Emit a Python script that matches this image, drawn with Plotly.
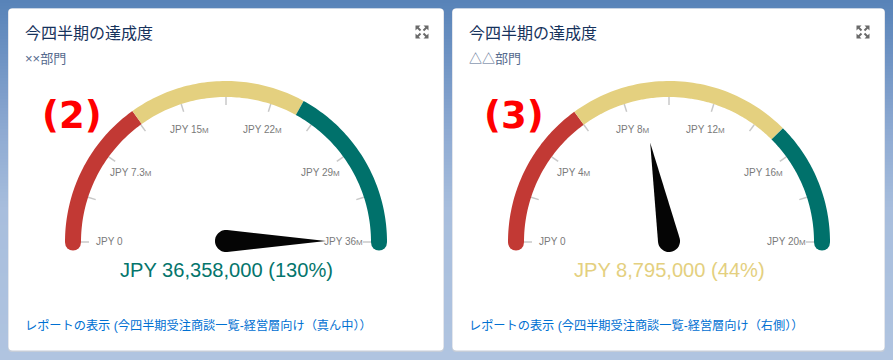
import math
import plotly.graph_objects as go

# ---- data ----
titles = ["今四半期の達成度", "今四半期の達成度"]
subtitles = ["××部門", "△△部門"]
badges = ["(2)", "(3)"]
values = [36358000, 8795000]
maxima = [36358000, 20000000]
thresholds_low = [11000000, 6000000]
thresholds_high = [24000000, 15000000]
tick_labels_1 = ["JPY 0", "JPY 7.3M", "JPY 15M", "JPY 22M", "JPY 29M", "JPY 36M"]
tick_labels_2 = ["JPY 0", "JPY 4M", "JPY 8M", "JPY 12M", "JPY 16M", "JPY 20M"]
readouts = ["JPY 36,358,000 (130%)", "JPY 8,795,000 (44%)"]
links = ["レポートの表示 (今四半期受注商談一覧-経営層向け（真ん中））",
         "レポートの表示 (今四半期受注商談一覧-経営層向け（右側））"]

# ---- style / layout ----
RED, YELLOW, GREEN = "#c23934", "#e4d07f", "#00716b"
readout_colors = ["#04756c", YELLOW]
FONT = "'Liberation Sans','Noto Sans CJK JP',sans-serif"
W, H = 893, 360
cards = [(8.5, 443.5), (452.5, 884.5)]
CARD_TOP, CARD_BOT = 8.5, 350.5
centers = [(226, 242), (669, 242)]
R_MID, R_W = 153, 16
bg_stops = [(0, (88, 131, 184)), (60, (112, 148, 196)), (130, (142, 170, 210)),
            (210, (168, 190, 221)), (360, (176, 196, 224))]

fig = go.Figure()
shapes, annotations = [], []


def bg_color(y):
    for (y0, c0), (y1, c1) in zip(bg_stops, bg_stops[1:]):
        if y <= y1:
            t = (y - y0) / (y1 - y0)
            return "rgb(%d,%d,%d)" % tuple(round(a + (b - a) * t) for a, b in zip(c0, c1))
    return "rgb(%d,%d,%d)" % bg_stops[-1][1]


for y in range(0, H, 3):
    shapes.append(dict(type="rect", x0=0, x1=W, y0=y, y1=y + 3, layer="below",
                       line_width=0, fillcolor=bg_color(y)))


def rounded(x0, x1, y0, y1, r=4):
    return (f"M{x0 + r},{y0} L{x1 - r},{y0} Q{x1},{y0} {x1},{y0 + r} L{x1},{y1 - r} "
            f"Q{x1},{y1} {x1 - r},{y1} L{x0 + r},{y1} Q{x0},{y1} {x0},{y1 - r} "
            f"L{x0},{y0 + r} Q{x0},{y0} {x0 + r},{y0} Z")


def pt(cx, cy, r, frac):
    a = math.pi * (1 - frac)
    return cx + r * math.cos(a), cy - r * math.sin(a)


def text(x, y, s, size, color, anchor="left", family=FONT, bold=False):
    annotations.append(dict(x=x, y=y, xref="x", yref="y", text=f"<b>{s}</b>" if bold else s,
                            showarrow=False, xanchor=anchor, yanchor="middle",
                            font=dict(size=size, color=color, family=family)))


def small_m(label):
    return label.replace("M", '<span style="font-size:8px">M</span>')


all_ticks = [tick_labels_1, tick_labels_2]
for i in range(2):
    x0, x1 = cards[i]
    cx, cy = centers[i]
    # card with bottom shadow
    shapes.append(dict(type="path", path=rounded(x0 - 0.5, x1 + 0.5, CARD_TOP, CARD_BOT + 1.5),
                       layer="below", line_width=0, fillcolor="#c6cdd8"))
    shapes.append(dict(type="path", path=rounded(x0, x1, CARD_TOP, CARD_BOT), layer="below",
                       line_width=0, fillcolor="#ffffff"))

    vmax = maxima[i]
    bands = [(0, thresholds_low[i], RED), (thresholds_low[i], thresholds_high[i], YELLOW),
             (thresholds_high[i], vmax, GREEN)]
    # ticks
    for k in range(11):
        f = k / 10
        a, b = pt(cx, cy, R_MID - R_W / 2 - 8, f), pt(cx, cy, R_MID - R_W / 2, f)
        fig.add_trace(go.Scatter(x=[a[0], b[0]], y=[a[1], b[1]], mode="lines",
                                 line=dict(color="#c8c8c8", width=1.5), hoverinfo="skip"))
    # round end caps
    for f, col in ((0, RED), (1, GREEN)):
        px, py = pt(cx, cy, R_MID, f)
        fig.add_trace(go.Scatter(x=[px], y=[py + 0.5], mode="markers", hoverinfo="skip",
                                 marker=dict(size=R_W, color=col, line_width=0)))
    # arc bands
    for lo, hi, col in bands:
        n = 60
        fr = [(lo + (hi - lo) * j / n) / vmax for j in range(n + 1)]
        pts = [pt(cx, cy, R_MID, f) for f in fr]
        fig.add_trace(go.Scatter(x=[p[0] for p in pts], y=[p[1] for p in pts], mode="lines",
                                 line=dict(color=col, width=R_W, simplify=False), hoverinfo="skip"))
    # tick labels
    for k, lab in enumerate(all_ticks[i]):
        lx, ly = pt(cx, cy, 117, k / 5)
        text(lx, ly - 1, small_m(lab), 10, "#7a7a7a", "center")
    # needle
    f = min(values[i] / vmax, 1)
    ang = math.pi * (1 - f)
    L, r = 100, 11
    tip = (cx + L * math.cos(ang), cy - 1 - L * math.sin(ang))
    nx, ny = [tip[0]], [tip[1]]
    off = math.acos(r / L)
    steps = 30
    for s in range(steps + 1):
        a = ang + off + (2 * math.pi - 2 * off) * s / steps
        nx.append(cx + r * math.cos(a))
        ny.append(cy - 1 - r * math.sin(a))
    nx.append(tip[0]); ny.append(tip[1])
    fig.add_trace(go.Scatter(x=nx, y=ny, mode="lines", fill="toself", fillcolor="#050505",
                             line=dict(width=0, color="#050505", simplify=False), hoverinfo="skip"))
    # texts
    tx = x0 + 14.5
    text(tx, 33, titles[i], 16, "#16325c")
    text(tx, 58.5, subtitles[i], 13, "#54698d")
    text(cx, 269.5, readouts[i], 20.1, readout_colors[i], "center")
    text(tx, 325.5, links[i], 12.2, "#0070d2")
    # expand icon
    ix, iy = x1 - 21.5, 32
    for sx in (-1, 1):
        for sy in (-1, 1):
            shapes.append(dict(type="path", layer="above", line_width=0, fillcolor="#6a6a6a",
                               path=f"M{ix + sx * 6.5},{iy + sy * 6.5} L{ix + sx * 1.5},{iy + sy * 6.5} "
                                    f"L{ix + sx * 6.5},{iy + sy * 1.5} Z"))
            shapes.append(dict(type="line", layer="above", x0=ix + sx * 1.5, y0=iy + sy * 1.5,
                               x1=ix + sx * 5, y1=iy + sy * 5, line=dict(color="#6a6a6a", width=2)))

text(71.5, 115, badges[0], 37, "#ff0000", "center", "'DejaVu Sans'", True)
text(514, 115, badges[1], 37, "#ff0000", "center", "'DejaVu Sans'", True)

fig.update_layout(width=W, height=H, margin=dict(l=0, r=0, t=0, b=0), showlegend=False,
                  paper_bgcolor="#b0c4e0", plot_bgcolor="rgba(0,0,0,0)",
                  shapes=shapes, annotations=annotations,
                  xaxis=dict(range=[0, W], visible=False, fixedrange=True),
                  yaxis=dict(range=[H, 0], visible=False, fixedrange=True))
fig.write_html("out.html", config=dict(displayModeBar=False, responsive=False),
               post_script="document.body.style.margin='0';document.body.style.overflow='hidden';")
